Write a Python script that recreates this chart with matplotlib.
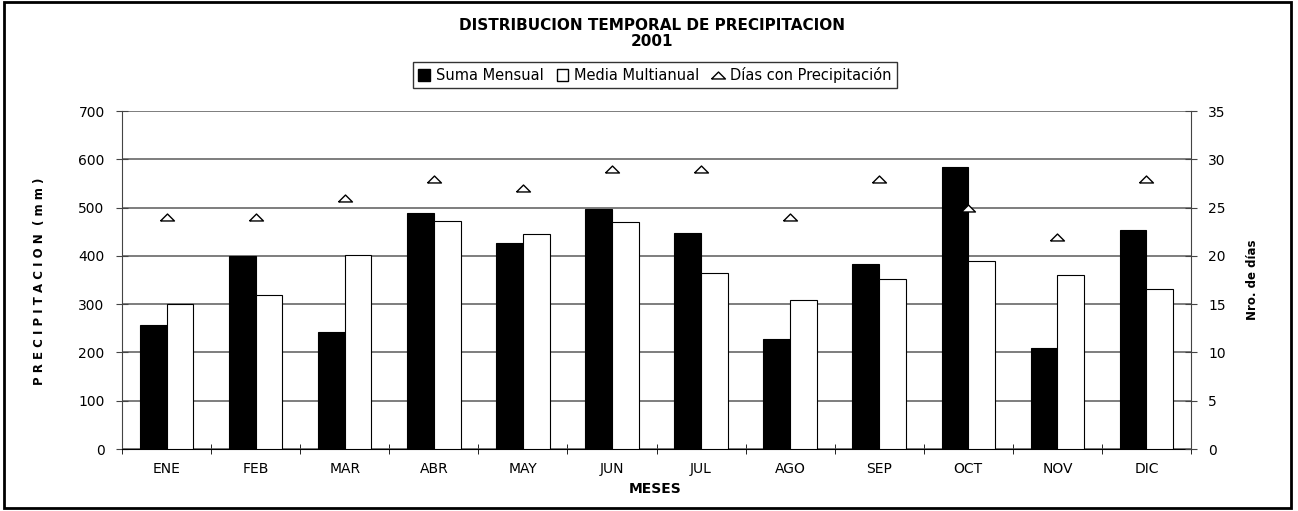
import matplotlib.pyplot as plt
from matplotlib.patches import Patch, Rectangle
from matplotlib.lines import Line2D

# datos
meses = ['ENE', 'FEB', 'MAR', 'ABR', 'MAY', 'JUN', 'JUL', 'AGO', 'SEP', 'OCT', 'NOV', 'DIC']
suma_mensual = [257, 400, 243, 488, 426, 497, 448, 228, 384, 583, 209, 454]
media_multianual = [301, 318, 401, 472, 446, 470, 365, 308, 352, 390, 361, 332]
dias_precip = [24, 24, 26, 28, 27, 29, 29, 24, 28, 25, 22, 28]

plt.rcParams['font.family'] = 'DejaVu Sans'

fig = plt.figure(figsize=(12.98, 5.11), dpi=100)
fig.patches.append(Rectangle((4, 3), 1287, 506, transform=None, fill=False,
                             edgecolor='black', linewidth=2))

ax = fig.add_axes([122 / 1298, 62 / 511, 1069 / 1298, 338 / 511])
x = list(range(len(meses)))

ax.bar([i - 0.15 for i in x], suma_mensual, width=0.3, color='black',
       edgecolor='black', linewidth=0.8, zorder=3)
ax.bar([i + 0.15 for i in x], media_multianual, width=0.3, color='white',
       edgecolor='black', linewidth=0.8, zorder=3)

ax.set_xlim(-0.5, 11.5)
ax.set_ylim(0, 700)
ax.set_yticks(range(0, 701, 100))
ax.yaxis.grid(True, color='#5a5a5a', linewidth=1.1, zorder=0)
ax.set_axisbelow(True)

ax.set_xticks(x)
ax.set_xticklabels(meses, fontsize=10)
ax.tick_params(axis='x', which='major', length=0, pad=9)
ax.set_xticks([i - 0.5 for i in range(13)], minor=True)
ax.tick_params(axis='x', which='minor', direction='inout', length=7, color='black')
ax.tick_params(axis='y', direction='inout', length=9, color='#444444', labelsize=10, pad=8)

for s in ['top', 'right']:
    ax.spines[s].set_visible(False)
ax.spines['left'].set_color('#444444')
ax.spines['bottom'].set_color('black')

# eje secundario: dias con precipitacion
marker_tri = [(-1, -0.5), (1, -0.5), (0, 0.5), (-1, -0.5)]
ax2 = ax.twinx()
ax2.plot(x, dias_precip, linestyle='none', marker=marker_tri, markersize=10,
         markerfacecolor='white', markeredgecolor='black', markeredgewidth=1, zorder=4)
ax2.set_ylim(0, 35)
ax2.set_yticks(range(0, 36, 5))
ax2.tick_params(axis='y', direction='inout', length=9, color='#444444', labelsize=10, pad=8)
for s in ['top', 'left', 'bottom']:
    ax2.spines[s].set_visible(False)
ax2.spines['right'].set_color('#444444')
ax2.set_xlim(-0.5, 11.5)

# textos
fig.text(652 / 1298, 1 - 26 / 511, 'DISTRIBUCION TEMPORAL DE PRECIPITACION',
         ha='center', va='center', fontsize=11, fontweight='bold')
fig.text(652 / 1298, 1 - 42 / 511, '2001', ha='center', va='center',
         fontsize=11, fontweight='bold')
fig.text(655 / 1298, 1 - 489 / 511, 'MESES', ha='center', va='center',
         fontsize=10, fontweight='bold')
fig.text(40 / 1298, 1 - 281 / 511, 'P R E C I P I T A C I O N  ( m m )', ha='center',
         va='center', rotation=90, fontsize=8.5, fontweight='bold')
fig.text(1253 / 1298, 1 - 280 / 511, 'Nro. de días', ha='center', va='center',
         rotation=90, fontsize=8.5, fontweight='bold')

handles = [Patch(facecolor='black', edgecolor='black'),
           Patch(facecolor='white', edgecolor='black'),
           Line2D([], [], linestyle='none', marker=marker_tri, markersize=10,
                  markerfacecolor='white', markeredgecolor='black')]
labels = ['Suma Mensual', 'Media Multianual', 'Días con Precipitación']
leg = fig.legend(handles, labels, loc='center', bbox_to_anchor=(655 / 1298, 1 - 75 / 511),
                 ncol=3, fontsize=10.5, frameon=True, fancybox=False, shadow=False,
                 handlelength=0.8, handleheight=0.8, handletextpad=0.4,
                 columnspacing=0.9, borderpad=0.35, borderaxespad=0)
leg.get_frame().set_edgecolor('black')
leg.get_frame().set_linewidth(1)

fig.savefig('out.png', dpi=100)
